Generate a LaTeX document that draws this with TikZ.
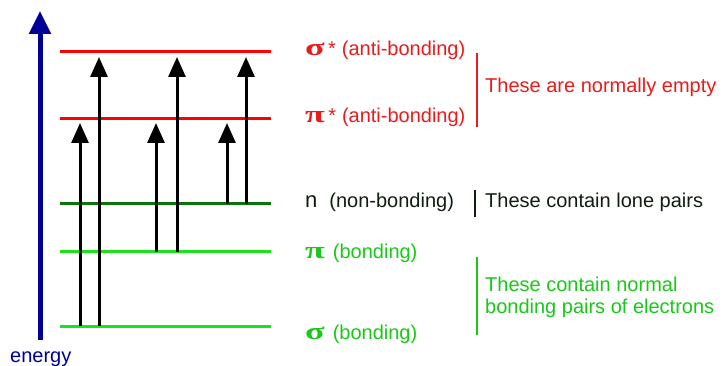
\documentclass[tikz,border=0pt]{standalone}
\usepackage{fontspec}
\setmainfont{Liberation Sans}
\newfontfamily\grk{Liberation Serif}
\usetikzlibrary{arrows.meta}
\definecolor{lred}{RGB}{255,0,0}
\definecolor{tred}{RGB}{232,28,28}
\definecolor{lgreen}{RGB}{30,225,30}
\definecolor{tgreen}{RGB}{25,200,25}
\definecolor{dgreen}{RGB}{10,115,10}
\definecolor{tdark}{RGB}{15,30,15}
\definecolor{navy}{RGB}{0,0,150}
\newcommand{\gl}[1]{\scalebox{1.5}[1]{\grk\bfseries\fontsize{24}{24}\selectfont #1}}
\tikzset{
  level/.style={line width=3pt},
  trans/.style={line width=3pt,black,-{Triangle[width=17pt,length=20pt]}},
  lbl/.style={anchor=base west,inner sep=0pt,font=\fontsize{20}{22}\selectfont},
  bar/.style={line width=1.6pt},
}
\begin{document}
\begin{tikzpicture}[x=1pt,y=-1pt]
\useasboundingbox[fill=white] (0,0) rectangle (726,366);
% energy axis
\coordinate (ebot) at (40,340);
\coordinate (etop) at (40,11);
\draw[line width=5pt,navy,-{Triangle[width=21pt,length=23pt]}] (ebot) -- (etop);
\node[lbl,navy] (energy) at (10,362) {energy};
% levels
\coordinate (ssL) at (60,52);  \coordinate (ssR) at (271,52);
\coordinate (psL) at (60,119); \coordinate (psR) at (271,119);
\coordinate (nL)  at (60,204); \coordinate (nR)  at (271,204);
\coordinate (pL)  at (60,252); \coordinate (pR)  at (271,252);
\coordinate (sL)  at (60,326); \coordinate (sR)  at (271,326);
\draw[level,lred]   (ssL) -- (ssR);
\draw[level,lred]   (psL) -- (psR);
\draw[level,dgreen] (nL) -- (nR);
\draw[level,lgreen] (pL) -- (pR);
\draw[level,lgreen] (sL) -- (sR);
% transitions
\coordinate (a1b) at (80,326);  \coordinate (a1t) at (80,123);
\coordinate (a2b) at (99,326);  \coordinate (a2t) at (99,57);
\coordinate (a3b) at (156,252); \coordinate (a3t) at (156,123);
\coordinate (a4b) at (177,252); \coordinate (a4t) at (177,57);
\coordinate (a5b) at (227,204); \coordinate (a5t) at (227,123);
\coordinate (a6b) at (246,204); \coordinate (a6t) at (246,57);
\draw[trans] (a1b) -- (a1t);
\draw[trans] (a2b) -- (a2t);
\draw[trans] (a3b) -- (a3t);
\draw[trans] (a4b) -- (a4t);
\draw[trans] (a5b) -- (a5t);
\draw[trans] (a6b) -- (a6t);
% level labels
\node[lbl,tred] (lss) at (305,56) {\gl{σ}\,*\hspace{6pt}(anti-bonding)};
\node[lbl,tred] (lps) at (305,123) {\gl{π}\,*\hspace{6pt}(anti-bonding)};
\node[lbl,tdark] (ln) at (305,208) {\fontsize{22}{22}\selectfont n\hspace{12pt}\fontsize{20}{22}\selectfont(non-bonding)};
\node[lbl,tgreen] (lp) at (305,259) {\gl{π}\hspace{8pt}(bonding)};
\node[lbl,tgreen] (ls) at (305,339) {\gl{σ}\hspace{8pt}(bonding)};
% group bars
\coordinate (b1t) at (477,53);  \coordinate (b1b) at (477,127);
\coordinate (b2t) at (475,190); \coordinate (b2b) at (475,217);
\coordinate (b3t) at (477,257); \coordinate (b3b) at (477,335);
\draw[bar,tred] (b1t) -- (b1b);
\draw[bar,tdark] (b2t) -- (b2b);
\draw[bar,tgreen] (b3t) -- (b3b);
% group texts
\node[lbl,tred] (g1) at (485,93) {These are normally empty};
\node[lbl,tdark] (g2) at (485,208) {These contain lone pairs};
\node[lbl,tgreen] (g3a) at (485,291) {These contain normal};
\node[lbl,tgreen] (g3b) at (485,313) {bonding pairs of electrons};
\end{tikzpicture}
\end{document}
